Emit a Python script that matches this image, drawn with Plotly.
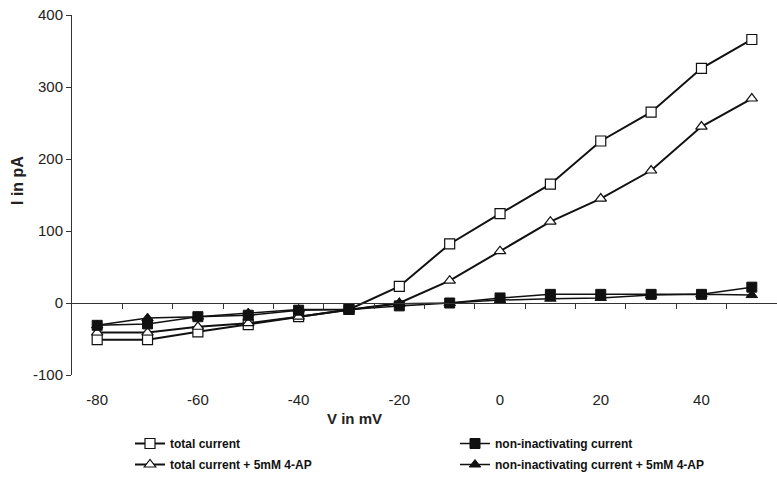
import plotly.graph_objects as go

voltage = [-80, -70, -60, -50, -40, -30, -20, -10, 0, 10, 20, 30, 40, 50]
total_current = [-51, -51, -40, -30, -19, -9, 23, 82, 124, 165, 225, 265, 326, 366]
total_current_4ap = [-41, -41, -33, -28, -19, -9, 0, 31, 72, 113, 145, 184, 245, 284]
noninact_current = [-31, -29, -19, -17, -10, -9, -4, 0, 7, 12, 12, 12, 12, 22]
noninact_current_4ap = [-31, -21, -19, -14, -9, -9, -1, 0, 4, 6, 7, 11, 12, 11]

x_label_vals = [-80, -60, -40, -20, 0, 20, 40]
x_label_text = ["-80", "-60", "-40", "-20", "0", "20", "40"]
x_minor_ticks = [-75, -65, -55, -45, -35, -25, -15, -5, 5, 15, 25, 35, 45]
y_ticks = [-100, 0, 100, 200, 300, 400]
y_tick_text = ["-100", "0", "100", "200", "300", "400"]

FONT = "Liberation Sans, Arial, sans-serif"
INK = "#111111"
AX = "#333333"
W, H = 777, 477
L, T, B = 72, 15, 102
PW, PH = W - L, H - T - B

fig = go.Figure()

fig.add_trace(go.Scatter(
    x=voltage, y=total_current, name="total current", mode="lines+markers",
    line=dict(color=INK, width=2),
    marker=dict(symbol="square", size=10, color="white", line=dict(color=INK, width=1.2)),
    legend="legend"))
fig.add_trace(go.Scatter(
    x=voltage, y=total_current_4ap, name="total current + 5mM 4-AP", mode="lines+markers",
    line=dict(color=INK, width=2),
    marker=dict(symbol="triangle-up", size=10, color="white", line=dict(color=INK, width=1.2)),
    legend="legend2"))
fig.add_trace(go.Scatter(
    x=voltage, y=noninact_current, name="non-inactivating current", mode="lines+markers",
    line=dict(color=INK, width=1.5),
    marker=dict(symbol="square", size=10, color=INK, line=dict(color=INK, width=1)),
    legend="legend3"))
fig.add_trace(go.Scatter(
    x=voltage, y=noninact_current_4ap, name="non-inactivating current + 5mM 4-AP", mode="lines+markers",
    line=dict(color=INK, width=1.5),
    marker=dict(symbol="triangle-up", size=10, color=INK, line=dict(color=INK, width=1)),
    legend="legend4"))

# invisible trace so that the zero-crossing category axis is drawn
fig.add_trace(go.Scatter(x=voltage, y=[None] * len(voltage), xaxis="x2", yaxis="y",
                         mode="lines", showlegend=False, hoverinfo="skip"))

legend_font = dict(family=FONT, size=12, color=INK, weight="bold")


def leg(xpx, ytop):
    return dict(xref="container", yref="container", x=xpx / W, y=1 - ytop / H,
                yanchor="top", xanchor="left", font=legend_font,
                bgcolor="rgba(0,0,0,0)", tracegroupgap=0, itemwidth=30)


fig.update_layout(
    width=W, height=H,
    margin=dict(l=L, r=0, t=T, b=B, autoexpand=False),
    paper_bgcolor="white", plot_bgcolor="white",
    font=dict(family=FONT, color="#222222"),
    xaxis=dict(range=[-85, 55], tickvals=x_label_vals, ticktext=x_label_text, ticks="",
               showline=False, showgrid=False, zeroline=False,
               tickfont=dict(size=15, color="#222222"), ticklabelstandoff=14),
    xaxis2=dict(range=[-85, 55], overlaying="x", anchor="free", position=0.2,
                matches="x", showline=True, linecolor=AX, linewidth=1,
                ticks="outside", ticklen=5, tickcolor=AX, tickvals=x_minor_ticks,
                showticklabels=False, showgrid=False, zeroline=False),
    yaxis=dict(range=[-100, 400], tickvals=y_ticks, ticktext=y_tick_text, showline=True,
               linecolor=AX, linewidth=1, ticks="outside", ticklen=5, tickcolor=AX,
               showgrid=False, zeroline=False, tickfont=dict(size=15, color="#222222")),
    legend=leg(130, 429),
    legend2=leg(130, 450),
    legend3=leg(455, 429),
    legend4=leg(455, 450),
    annotations=[
        dict(text="<b>V in mV</b>", x=(354 - L) / PW, y=(T + PH - 418) / PH, xref="paper",
             yref="paper", showarrow=False, font=dict(family=FONT, size=15, color="#222222"),
             xanchor="center", yanchor="middle"),
        dict(text="<b>I in pA</b>", x=(17 - L) / PW, y=(T + PH - 181) / PH, xref="paper",
             yref="paper", showarrow=False, textangle=-90,
             font=dict(family=FONT, size=16, color="#222222"),
             xanchor="center", yanchor="middle"),
    ],
)

fig.write_html("out.html", config={"displayModeBar": False},
               post_script="document.body.style.margin='0';")
